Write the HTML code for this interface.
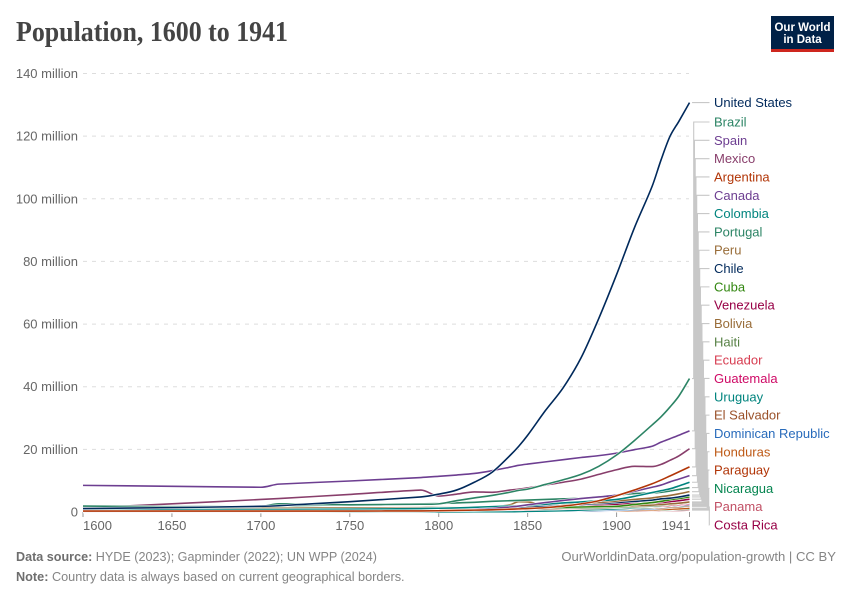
<!DOCTYPE html>
<html lang="en">
<head>
<meta charset="utf-8">
<title>Population, 1600 to 1941</title>
<style>
html,body{margin:0;padding:0;background:#fff;}
svg{display:block;font-family:"Liberation Sans",sans-serif;}
</style>
</head>
<body>
<svg id="chart" width="850" height="600" viewBox="0 0 850 600" xmlns="http://www.w3.org/2000/svg">
  <rect x="0" y="0" width="850" height="600" fill="#ffffff"/>
  <text x="16" y="41" font-family="'Liberation Serif',serif" font-weight="700" font-size="28" fill="#444444" textLength="272" lengthAdjust="spacingAndGlyphs">Population, 1600 to 1941</text>
  <g>
    <rect x="771" y="16" width="63" height="33" fill="#002147"/>
    <rect x="771" y="49" width="63" height="3" fill="#ce261e"/>
    <text x="802.5" y="31" text-anchor="middle" font-size="11.5" font-weight="700" fill="#ffffff">Our World</text>
    <text x="802.5" y="43" text-anchor="middle" font-size="11.5" font-weight="700" fill="#ffffff">in Data</text>
  </g>
  <g id="grid"></g>
  <g id="yLabels"></g>
  <g id="xAxis"></g>
  <g id="connectors"></g>
  <g id="lines"></g>
  <g id="labels"></g>
  <text x="16" y="561" font-size="12.6" fill="#858585"><tspan font-weight="700" fill="#6e6e6e">Data source:</tspan> HYDE (2023); Gapminder (2022); UN WPP (2024)</text>
  <text x="836" y="561" text-anchor="end" font-size="13.1" fill="#858585">OurWorldinData.org/population-growth | CC BY</text>
  <text x="16" y="581" font-size="12.7" fill="#858585"><tspan font-weight="700" fill="#6e6e6e">Note:</tspan> Country data is always based on current geographical borders.</text>
</svg>
<script>
var years = [1600,1650,1700,1710,1750,1790,1800,1810,1820,1830,1840,1845,1850,1860,1870,1880,1890,1900,1910,1920,1925,1930,1935,1941];
var unitedStates = [1.1,1.4,1.8,2.0,3.3,4.8,5.7,7.0,9.5,12.7,18,21,24.5,32.4,39.7,49.2,61.8,75.8,90.7,104,112.4,119.9,124.7,130.7];
var brazil = [1.9,1.7,1.8,2.6,2.3,2.5,2.6,3.6,4.5,5.3,6.3,6.9,7.3,8.8,10.3,12.0,14.6,18.2,22.8,27.8,30.4,33.5,37,42.6];
var spain = [8.5,8.2,7.9,8.9,9.9,11,11.4,11.8,12.3,13.2,14.3,14.9,15.3,16,16.7,17.4,18,18.8,19.9,21,22.3,23.4,24.5,25.9];
var mexico = [1.3,2.6,4.0,4.3,5.6,7.0,5.1,5.7,6.4,6.3,7.0,7.3,7.7,8.6,9.5,10.5,12,13.5,14.6,14.5,15.2,16.5,17.9,20.2];
var argentina = [0.3,0.3,0.3,0.3,0.3,0.35,0.4,0.5,0.6,0.7,0.9,1.0,1.1,1.4,1.9,2.6,3.6,5.2,7.0,9.0,10.2,11.5,12.8,14.4];
var canada = [0.2,0.2,0.2,0.2,0.3,0.4,0.5,0.6,0.8,1.1,1.6,1.9,2.3,3.0,3.7,4.3,4.8,5.4,6.6,7.9,8.6,9.6,10.5,11.6];
var colombia = [0.8,0.8,0.8,0.8,0.9,1.1,1.2,1.3,1.5,1.7,1.9,2.0,2.1,2.5,2.9,3.2,3.6,4.0,5.0,6.2,6.8,7.4,8.3,9.5];
var portugal = [1.1,1.4,1.9,2.0,2.3,2.6,2.7,2.9,3.1,3.4,3.6,3.7,3.8,4.0,4.2,4.4,4.9,5.4,5.9,6.1,6.3,6.7,7.2,7.8];
var peru = [1.3,1.2,1.2,1.2,1.3,1.4,1.4,1.4,1.5,1.6,2.3,3.3,3.2,2.4,2.7,2.8,3.0,3.5,4.0,4.5,4.9,5.3,5.8,6.5];
var chile = [0.4,0.4,0.4,0.4,0.5,0.6,0.7,0.8,0.9,1.1,1.3,1.4,1.5,1.8,2.1,2.4,2.7,3.0,3.4,3.8,4.2,4.4,4.8,5.4];
var cuba = [0.1,0.1,0.1,0.1,0.2,0.3,0.4,0.5,0.6,0.8,1.0,1.1,1.2,1.4,1.5,1.6,1.7,1.8,2.4,3.0,3.4,3.9,4.3,4.8];
var venezuela = [0.4,0.4,0.4,0.4,0.5,0.7,0.8,0.8,0.9,1.0,1.2,1.3,1.4,1.7,1.9,2.1,2.3,2.5,2.7,2.9,3.0,3.3,3.6,4.1];
var bolivia = [0.9,0.9,0.9,0.9,1.0,1.1,1.1,1.2,1.2,1.3,1.4,1.4,1.5,1.6,1.6,1.7,1.7,1.8,2.0,2.2,2.4,2.6,2.8,3.2];
var haiti = [0.1,0.1,0.1,0.1,0.2,0.4,0.5,0.6,0.7,0.8,0.9,0.9,1.0,1.1,1.2,1.3,1.4,1.5,1.7,1.9,2.1,2.4,2.7,3.0];
var ecuador = [0.3,0.3,0.3,0.3,0.4,0.5,0.5,0.5,0.6,0.6,0.7,0.7,0.8,0.9,1.0,1.1,1.2,1.4,1.6,1.8,1.9,2.1,2.4,2.8];
var guatemala = [0.3,0.3,0.3,0.3,0.3,0.4,0.4,0.5,0.5,0.6,0.7,0.8,0.8,0.9,1.0,1.2,1.4,1.5,1.6,1.7,1.8,2.0,2.2,2.5];
var uruguay = [0.01,0.01,0.02,0.02,0.03,0.05,0.06,0.07,0.08,0.1,0.1,0.13,0.2,0.3,0.4,0.6,0.8,1.0,1.3,1.5,1.7,1.8,2.0,2.2];
var elSalvador = [0.1,0.1,0.1,0.1,0.1,0.2,0.2,0.2,0.3,0.3,0.3,0.4,0.4,0.5,0.6,0.7,0.8,0.9,1.1,1.3,1.4,1.5,1.7,1.9];
var dominicanRepublic = [0.1,0.1,0.1,0.1,0.1,0.1,0.1,0.1,0.1,0.1,0.2,0.2,0.2,0.3,0.3,0.4,0.5,0.6,0.8,1.0,1.2,1.4,1.6,1.8];
var honduras = [0.1,0.1,0.1,0.1,0.1,0.1,0.1,0.1,0.1,0.2,0.2,0.2,0.2,0.3,0.3,0.3,0.4,0.4,0.5,0.7,0.8,0.9,1.0,1.2];
var paraguay = [0.1,0.1,0.1,0.1,0.1,0.1,0.1,0.1,0.1,0.2,0.2,0.2,0.3,0.3,0.3,0.3,0.4,0.5,0.6,0.7,0.8,0.9,1.0,1.2];
var nicaragua = [0.1,0.1,0.1,0.1,0.1,0.1,0.1,0.1,0.1,0.2,0.2,0.2,0.2,0.2,0.3,0.3,0.4,0.4,0.5,0.6,0.6,0.7,0.8,0.9];
var panama = [0.05,0.05,0.05,0.05,0.05,0.05,0.06,0.07,0.08,0.1,0.1,0.1,0.1,0.2,0.2,0.2,0.3,0.3,0.3,0.4,0.4,0.5,0.5,0.6];
var costaRica = [0.05,0.05,0.05,0.05,0.05,0.05,0.05,0.05,0.06,0.07,0.08,0.09,0.1,0.1,0.2,0.2,0.2,0.3,0.4,0.4,0.5,0.5,0.6,0.7];

var seriesNames = ["United States","Brazil","Spain","Mexico","Argentina","Canada","Colombia","Portugal","Peru","Chile","Cuba","Venezuela","Bolivia","Haiti","Ecuador","Guatemala","Uruguay","El Salvador","Dominican Republic","Honduras","Paraguay","Nicaragua","Panama","Costa Rica"];
var seriesValues = [unitedStates,brazil,spain,mexico,argentina,canada,colombia,portugal,peru,chile,cuba,venezuela,bolivia,haiti,ecuador,guatemala,uruguay,elSalvador,dominicanRepublic,honduras,paraguay,nicaragua,panama,costaRica];
var seriesColors = ["#00295b","#2c8465","#6d3e91","#883e6b","#b13507","#6d3e91","#00847e","#2c8465","#996d39","#00295b","#338711","#970046","#996d39","#578145","#d73c50","#cf0a66","#00847e","#9a5129","#286bbb","#be5915","#b13507","#058550","#c15065","#970046"];
var yTicks = [0,20,40,60,80,100,120,140];
var yTickLabels = ["0","20 million","40 million","60 million","80 million","100 million","120 million","140 million"];
var xTicks = [1600,1650,1700,1750,1800,1850,1900,1941];

var NS = "http://www.w3.org/2000/svg";
function xScale(year){ return 83 + (year - 1600) * (689.5 - 83) / 341; }
function yScale(v){ return 512 - v * (512 - 73.5) / 140; }
function make(tag, parent){
  var el = document.createElementNS(NS, tag);
  document.getElementById(parent).appendChild(el);
  return el;
}
function smoothPath(vals){
  var xs = years.map(xScale);
  var ys = vals.map(yScale);
  var n = xs.length;
  var slopes = xs.map(function(x, i){
    var a = Math.max(i - 1, 0);
    var b = Math.min(i + 1, n - 1);
    var s = (ys[b] - ys[a]) / (xs[b] - xs[a]);
    if (i > 0 && i < n - 1 && (ys[i] - ys[a]) * (ys[b] - ys[i]) < 0) { s = 0; }
    return s;
  });
  var d = "M" + xs[0].toFixed(2) + " " + ys[0].toFixed(2);
  for (var i = 0; i < n - 1; i++) {
    var h = (xs[i + 1] - xs[i]) / 3;
    var h1 = Math.min(h, 6);
    var h2 = Math.min(h, 6);
    d += "C" + (xs[i] + h1).toFixed(2) + " " + (ys[i] + slopes[i] * h1).toFixed(2) + " " +
         (xs[i + 1] - h2).toFixed(2) + " " + (ys[i + 1] - slopes[i + 1] * h2).toFixed(2) + " " +
         xs[i + 1].toFixed(2) + " " + ys[i + 1].toFixed(2);
  }
  return d;
}

yTicks.forEach(function(t, i){
  if (t !== 0) {
    var g = make("line", "grid");
    
    
    g.setAttribute("x1", 83); g.setAttribute("x2", 689);
    g.setAttribute("y1", yScale(t)); g.setAttribute("y2", yScale(t));
    g.setAttribute("stroke", "#dddddd");
    g.setAttribute("stroke-dasharray", "4 5");
  }
  var l = make("text", "yLabels");
  
  
  l.setAttribute("x", 78);
  l.setAttribute("y", yScale(t) + 4.5);
  l.setAttribute("text-anchor", "end");
  l.setAttribute("font-size", "13");
  l.setAttribute("fill", "#666666");
  l.textContent = yTickLabels[i];
});

xTicks.forEach(function(t, i){
  var k = make("line", "xAxis");
  
  
  var x = xScale(t);
  k.setAttribute("x1", x); k.setAttribute("x2", x);
  k.setAttribute("y1", 512); k.setAttribute("y2", 517);
  k.setAttribute("stroke", "#999999");
  var l = make("text", "xAxis");
  
  
  l.setAttribute("y", 530);
  l.setAttribute("font-size", "13");
  l.setAttribute("fill", "#666666");
  if (i === 0) { l.setAttribute("x", x); l.setAttribute("text-anchor", "start"); }
  else if (i === xTicks.length - 1) { l.setAttribute("x", x + 1); l.setAttribute("text-anchor", "end"); }
  else { l.setAttribute("x", x); l.setAttribute("text-anchor", "middle"); }
  l.textContent = t;
});

var labelGap = 18.32;
function labelY(i){ return i === 0 ? 102.6 : 122 + (i - 1) * labelGap; }

seriesNames.forEach(function(name, i){
  var vals = seriesValues[i];
  var endY = yScale(vals[vals.length - 1]);
  var ly = labelY(i);
  var midX = i === 0 ? 693 : Math.min(693.7 + (i - 1) * 0.75, 709.3);
  var c = make("path", "connectors");
  
  
  c.setAttribute("d", "M692 " + endY.toFixed(2) + "H" + midX.toFixed(2) + "V" + ly.toFixed(2) + "H709.5");
  c.setAttribute("fill", "none");
  c.setAttribute("stroke", "#c8c8c8");
  c.setAttribute("stroke-width", "1.1");

  var label = make("text", "labels");
  
  
  label.setAttribute("x", 714);
  label.setAttribute("y", ly + 4.5);
  label.setAttribute("font-size", "13");
  label.setAttribute("fill", seriesColors[i]);
  label.textContent = name;
});

for (var s = seriesNames.length - 1; s >= 0; s--) {
  var pathD = smoothPath(seriesValues[s]);
  var halo = make("path", "lines");
  
  
  halo.setAttribute("d", pathD);
  halo.setAttribute("fill", "none");
  halo.setAttribute("stroke", "#ffffff");
  halo.setAttribute("stroke-width", "2.6");
  var line = make("path", "lines");
  
  
  line.setAttribute("d", pathD);
  line.setAttribute("fill", "none");
  line.setAttribute("stroke", seriesColors[s]);
  line.setAttribute("stroke-width", "1.6");
  line.setAttribute("stroke-linejoin", "round");
}
</script>
</body>
</html>
